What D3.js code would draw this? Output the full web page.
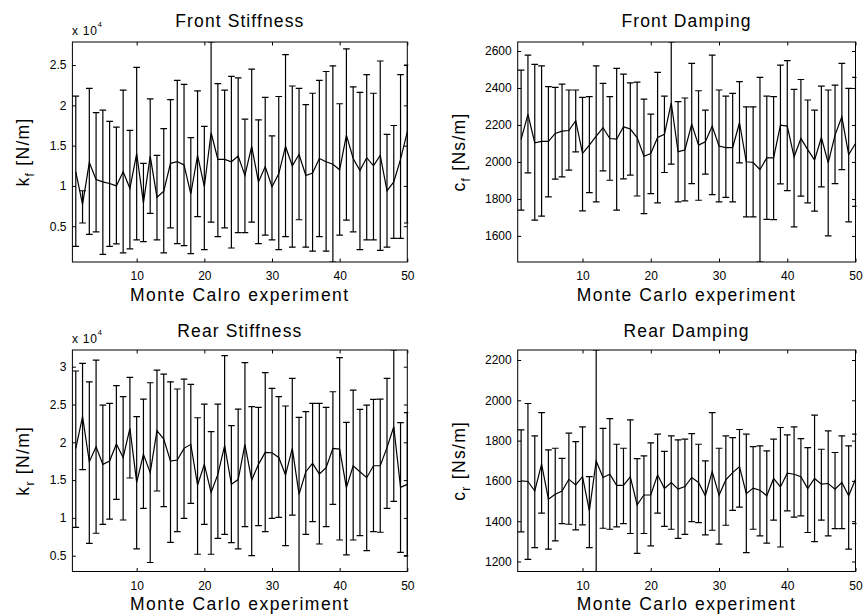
<!DOCTYPE html>
<html>
<head>
<meta charset="utf-8">
<script src="https://cdn.jsdelivr.net/npm/d3@7"></script>
<style>
  body { margin: 0; background: #fff; }
  svg { display: block; }
  text { font-family: "Liberation Sans", Arial, Helvetica, sans-serif; fill: #000; }
</style>
</head>
<body>
<svg id="fig" width="863" height="614"></svg>
<script>
// Monte Carlo experiment index
const runs = d3.range(1, 51);
const xTicks = [10, 20, 30, 40, 50];

// Front stiffness k_f, in units of 1e4 N/m
const frontStiffnessMean = [1.175, 0.77, 1.29, 1.08, 1.05, 1.03, 1.00, 1.175, 0.97, 1.40,
  0.79, 1.37, 0.86, 0.935, 1.28, 1.30, 1.26, 0.90, 1.38, 0.99,
  1.66, 1.33, 1.33, 1.30, 1.37, 1.13, 1.49, 1.05, 1.24, 0.99,
  1.15, 1.49, 1.25, 1.39, 1.13, 1.16, 1.34, 1.30, 1.27, 1.20,
  1.63, 1.34, 1.19, 1.35, 1.25, 1.38, 0.94, 1.05, 1.33, 1.67];
const frontStiffnessLow = [0.25, 0.54, 0.40, 0.43, 0.15, 0.25, 0.28, 0.17, 0.22, 0.33,
  0.31, 0.66, 0.33, 0.17, 0.48, 0.285, 0.26, 0.16, 0.62, 0.21,
  0.55, 0.37, 0.48, 0.23, 0.42, 0.42, 0.55, 0.285, 0.39, 0.33,
  0.21, 0.37, 0.24, 0.58, 0.24, 0.19, 0.37, 0.19, 0.056, 0.39,
  0.575, 0.43, 0.21, 0.33, 0.33, 0.20, 0.24, 0.35, 0.35, 0.54];
const frontStiffnessHigh = [2.115, 0.94, 2.21, 1.91, 1.94, 1.80, 1.73, 2.19, 1.69, 2.47,
  1.28, 2.08, 1.38, 1.71, 2.07, 2.31, 2.26, 1.60, 2.18, 1.74,
  2.786, 2.27, 2.19, 2.36, 2.34, 1.83, 2.45, 1.82, 2.10, 1.62,
  2.11, 2.63, 2.24, 2.21, 2.01, 2.15, 2.31, 2.42, 2.49, 2.02,
  2.70, 2.23, 2.16, 2.38, 2.15, 2.55, 1.64, 1.75, 2.38, 2.50];
const frontStiffnessTicks = [0.5, 1, 1.5, 2, 2.5];

// Front damping c_f, Ns/m
const frontDampingMean = [2122, 2257, 2104, 2111, 2111, 2154, 2167, 2170, 2223, 2046,
  2091, 2140, 2185, 2127, 2123, 2190, 2178, 2132, 2031, 2046,
  2132, 2149, 2320, 2055, 2065, 2205, 2091, 2109, 2194, 2086,
  2078, 2078, 2212, 2001, 1997, 1959, 2022, 2022, 2199, 2194,
  2028, 2127, 2067, 2010, 2132, 1995, 2145, 2244, 2040, 2100];
const frontDampingLow = [1740, 1941, 1685, 1707, 1811, 1907, 1919, 1956, 2055, 1735,
  1834, 1784, 1952, 1901, 1739, 1909, 1929, 1816, 1721, 1829,
  1779, 1943, 1988, 1784, 1790, 1883, 1793, 1934, 1823, 1784,
  1808, 1784, 1995, 1703, 1703, 1459, 1689, 1688, 1881, 1845,
  1649, 1815, 1779, 1734, 1865, 1600, 1883, 1959, 1676, 1760];
const frontDampingHigh = [2497, 2578, 2528, 2520, 2407, 2403, 2421, 2389, 2389, 2349,
  2353, 2520, 2425, 2353, 2506, 2475, 2428, 2432, 2340, 2259,
  2484, 2356, 2648.7, 2326, 2346, 2533, 2385, 2280, 2578, 2389,
  2356, 2371, 2434, 2298, 2298, 2457, 2356, 2353, 2524, 2548,
  2392, 2446, 2335, 2280, 2410, 2389, 2416, 2533, 2398, 2457];
const frontDampingTicks = [1600, 1800, 2000, 2200, 2400, 2600];

// Rear stiffness k_r, in units of 1e4 N/m
const rearStiffnessMean = [1.92, 2.339, 1.743, 1.942, 1.708, 1.752, 1.977, 1.80, 2.184, 1.47,
  1.84, 1.598, 2.153, 2.043, 1.752, 1.765, 1.92, 1.973, 1.435, 1.708,
  1.338, 1.576, 1.955, 1.444, 1.507, 1.973, 1.50, 1.708, 1.867, 1.862,
  1.80, 1.567, 1.92, 1.311, 1.611, 1.721, 1.58, 1.664, 1.92, 1.911,
  1.40, 1.69, 1.611, 1.532, 1.69, 1.69, 1.929, 2.206, 1.404, 1.444];
const rearStiffnessLow = [0.875, 1.638, 0.664, 0.797, 0.915, 0.985, 1.245, 0.972, 1.528, 0.59,
  1.126, 0.41, 1.356, 1.148, 0.677, 0.818, 0.994, 1.192, 0.519, 0.915,
  0.519, 0.73, 0.783, 0.673, 0.59, 0.884, 0.501, 0.898, 0.818, 0.994,
  1.008, 0.633, 1.038, 0.291, 0.783, 0.95, 0.655, 0.884, 1.179, 0.708,
  0.51, 0.708, 0.765, 0.567, 0.818, 0.81, 1.126, 1.219, 0.545, 0.501];
const rearStiffnessHigh = [2.943, 3.044, 2.80, 3.088, 2.493, 2.515, 2.749, 2.603, 2.859, 2.339,
  2.572, 2.788, 2.956, 2.903, 2.80, 2.705, 2.837, 2.766, 2.325, 2.506,
  2.14, 2.506, 3.146, 2.22, 2.44, 3.053, 2.471, 2.462, 2.921, 2.713,
  2.603, 2.48, 2.846, 2.33, 2.405, 2.515, 2.515, 2.462, 2.669, 3.119,
  2.264, 2.691, 2.436, 2.493, 2.568, 2.572, 2.846, 3.221, 2.259, 2.392];
const rearStiffnessTicks = [0.5, 1, 1.5, 2, 2.5, 3];

// Rear damping c_r, Ns/m
const rearDampingMean = [1600, 1597, 1550, 1683, 1509, 1534, 1550, 1608, 1580, 1621,
  1451, 1699, 1617, 1633, 1578, 1578, 1620, 1481, 1530, 1530,
  1630, 1562, 1592, 1559, 1572, 1617, 1592, 1526, 1646, 1529,
  1605, 1641, 1671, 1537, 1564, 1554, 1526, 1612, 1570, 1638,
  1633, 1621, 1562, 1612, 1584, 1587, 1559, 1592, 1526, 1608];
const rearDampingLow = [1347, 1211, 1269, 1440, 1261, 1302, 1388, 1385, 1357, 1382,
  1269, 1150.4, 1365, 1360, 1372, 1388, 1339, 1240, 1339, 1278,
  1440, 1374, 1360, 1315, 1335, 1398, 1393, 1332, 1355, 1286,
  1380, 1454, 1470, 1244, 1360, 1327, 1291, 1405, 1272, 1451,
  1420, 1426, 1344, 1299, 1405, 1327, 1363, 1363, 1261, 1388];
const rearDampingHigh = [1853, 1984, 1823, 1939, 1754, 1762, 1712, 1837, 1795, 1868,
  1621, 2249.6, 1861, 1909, 1782, 1762, 1903, 1711, 1724, 1789,
  1832, 1747, 1823, 1804, 1807, 1835, 1782, 1699, 1939, 1762,
  1823, 1815, 1855, 1832, 1770, 1774, 1749, 1807, 1865, 1828,
  1868, 1810, 1765, 1926, 1757, 1848, 1741, 1823, 1774, 1832];
const rearDampingTicks = [1200, 1400, 1600, 1800, 2000, 2200];

const svg = d3.select("#fig");
const defs = svg.append("defs");

const TICK = 3.5;        // inward tick length
const CAP = 0.49;        // half width of the error-bar tee, in run units
const LABEL_SIZE = 17.5;
const TICK_SIZE = 12;

const panels = [
  { title: "Front Stiffness", xLabel: "Monte Calro experiment", sym: "k", sub: "f", unit: "[N/m]",
    mean: frontStiffnessMean, low: frontStiffnessLow, high: frontStiffnessHigh,
    yTicks: frontStiffnessTicks, exponent: 4,
    frame: { left: 72.4, right: 407.3, top: 42, bottom: 262 }, titleBase: 26.5, yLabelX: 29 },
  { title: "Front Damping", xLabel: "Monte Carlo experiment", sym: "c", sub: "f", unit: "[Ns/m]",
    mean: frontDampingMean, low: frontDampingLow, high: frontDampingHigh,
    yTicks: frontDampingTicks, exponent: null,
    frame: { left: 517.7, right: 855.5, top: 42, bottom: 262 }, titleBase: 26.5, yLabelX: 465 },
  { title: "Rear Stiffness", xLabel: "Monte Carlo experiment", sym: "k", sub: "r", unit: "[N/m]",
    mean: rearStiffnessMean, low: rearStiffnessLow, high: rearStiffnessHigh,
    yTicks: rearStiffnessTicks, exponent: 4,
    frame: { left: 72.4, right: 407.3, top: 350, bottom: 571.5 }, titleBase: 337.3, yLabelX: 29 },
  { title: "Rear Damping", xLabel: "Monte Carlo experiment", sym: "c", sub: "r", unit: "[Ns/m]",
    mean: rearDampingMean, low: rearDampingLow, high: rearDampingHigh,
    yTicks: rearDampingTicks, exponent: null,
    frame: { left: 517.7, right: 855.5, top: 350, bottom: 571.5 }, titleBase: 337.3, yLabelX: 465 }
];

panels.forEach((p, k) => {
  const f = p.frame;
  const x = d3.scaleLinear().domain([0.5, 50]).range([f.left, f.right]);
  // tight limits: the extreme bar ends touch the frame
  const y = d3.scaleLinear()
    .domain([d3.min(p.low), d3.max(p.high)])
    .range([f.bottom, f.top]);

  const g = svg.append("g").attr("class", "panel");

  const clipId = "plotArea" + k;
  defs.append("clipPath").attr("id", clipId).append("rect")
    .attr("x", f.left - 1).attr("y", f.top)
    .attr("width", f.right - f.left + 2).attr("height", f.bottom - f.top);

  const rows = runs.map((r, i) => ({ r, m: p.mean[i], lo: p.low[i], hi: p.high[i] }));
  const plot = g.append("g").attr("clip-path", `url(#${clipId})`)
    .attr("stroke", "#000").attr("stroke-width", 1.2).attr("fill", "none");

  const bars = plot.selectAll("g.bar").data(rows).join("g").attr("class", "bar");
  bars.append("line")
    .attr("x1", d => x(d.r)).attr("x2", d => x(d.r))
    .attr("y1", d => y(d.lo)).attr("y2", d => y(d.hi));
  bars.append("line")
    .attr("x1", d => x(d.r - CAP)).attr("x2", d => x(d.r + CAP))
    .attr("y1", d => y(d.lo)).attr("y2", d => y(d.lo));
  bars.append("line")
    .attr("x1", d => x(d.r - CAP)).attr("x2", d => x(d.r + CAP))
    .attr("y1", d => y(d.hi)).attr("y2", d => y(d.hi));

  plot.append("path").datum(rows)
    .attr("stroke-linejoin", "miter")
    .attr("d", d3.line().x(d => x(d.r)).y(d => y(d.m)));

  // axes with inward ticks on all four sides
  const fmt = p.exponent ? d3.format("~g") : d3.format("d");
  const styleAxis = sel => {
    sel.select(".domain").remove();
    sel.selectAll(".tick line").attr("stroke", "#000");
    sel.selectAll("text").attr("font-size", TICK_SIZE)
      .attr("font-family", '"Liberation Sans", Arial, sans-serif').attr("fill", "#000");
  };
  g.append("g").attr("transform", `translate(0,${f.bottom})`)
    .call(d3.axisBottom(x).tickValues(xTicks).tickSize(-TICK).tickPadding(9.5))
    .call(styleAxis);
  g.append("g").attr("transform", `translate(0,${f.top})`)
    .call(d3.axisTop(x).tickValues(xTicks).tickSize(-TICK).tickFormat(""))
    .call(styleAxis);
  g.append("g").attr("transform", `translate(${f.left},0)`)
    .call(d3.axisLeft(y).tickValues(p.yTicks).tickSize(-TICK).tickPadding(6).tickFormat(fmt))
    .call(styleAxis);
  g.append("g").attr("transform", `translate(${f.right},0)`)
    .call(d3.axisRight(y).tickValues(p.yTicks).tickSize(-TICK).tickFormat(""))
    .call(styleAxis);

  g.append("rect")
    .attr("x", f.left).attr("y", f.top)
    .attr("width", f.right - f.left).attr("height", f.bottom - f.top)
    .attr("fill", "none").attr("stroke", "#000").attr("stroke-width", 1);

  const cx = (f.left + f.right) / 2;

  g.append("text")
    .attr("x", cx).attr("y", p.titleBase)
    .attr("text-anchor", "middle")
    .attr("font-size", LABEL_SIZE).attr("letter-spacing", 1.1)
    .text(p.title);

  g.append("text")
    .attr("x", cx).attr("y", f.bottom + 38.5)
    .attr("text-anchor", "middle")
    .attr("font-size", LABEL_SIZE).attr("letter-spacing", 1.5)
    .text(p.xLabel);

  const yl = g.append("text")
    .attr("transform", `translate(${p.yLabelX},${(f.top + f.bottom) / 2}) rotate(-90)`)
    .attr("text-anchor", "middle")
    .attr("font-size", LABEL_SIZE).attr("letter-spacing", 1.3);
  yl.append("tspan").text(p.sym);
  yl.append("tspan").attr("font-size", 12).attr("dy", 4.5).text(p.sub);
  yl.append("tspan").attr("dy", -4.5).text(" " + p.unit);

  if (p.exponent) {
    const ex = g.append("text")
      .attr("x", f.left - 0.5).attr("y", f.top - 7)
      .attr("font-size", TICK_SIZE).attr("letter-spacing", 0.8);
    ex.append("tspan").text("x 10");
    ex.append("tspan").attr("font-size", 7.5).attr("dy", -8.3).text(p.exponent);
  }
});
</script>
</body>
</html>
